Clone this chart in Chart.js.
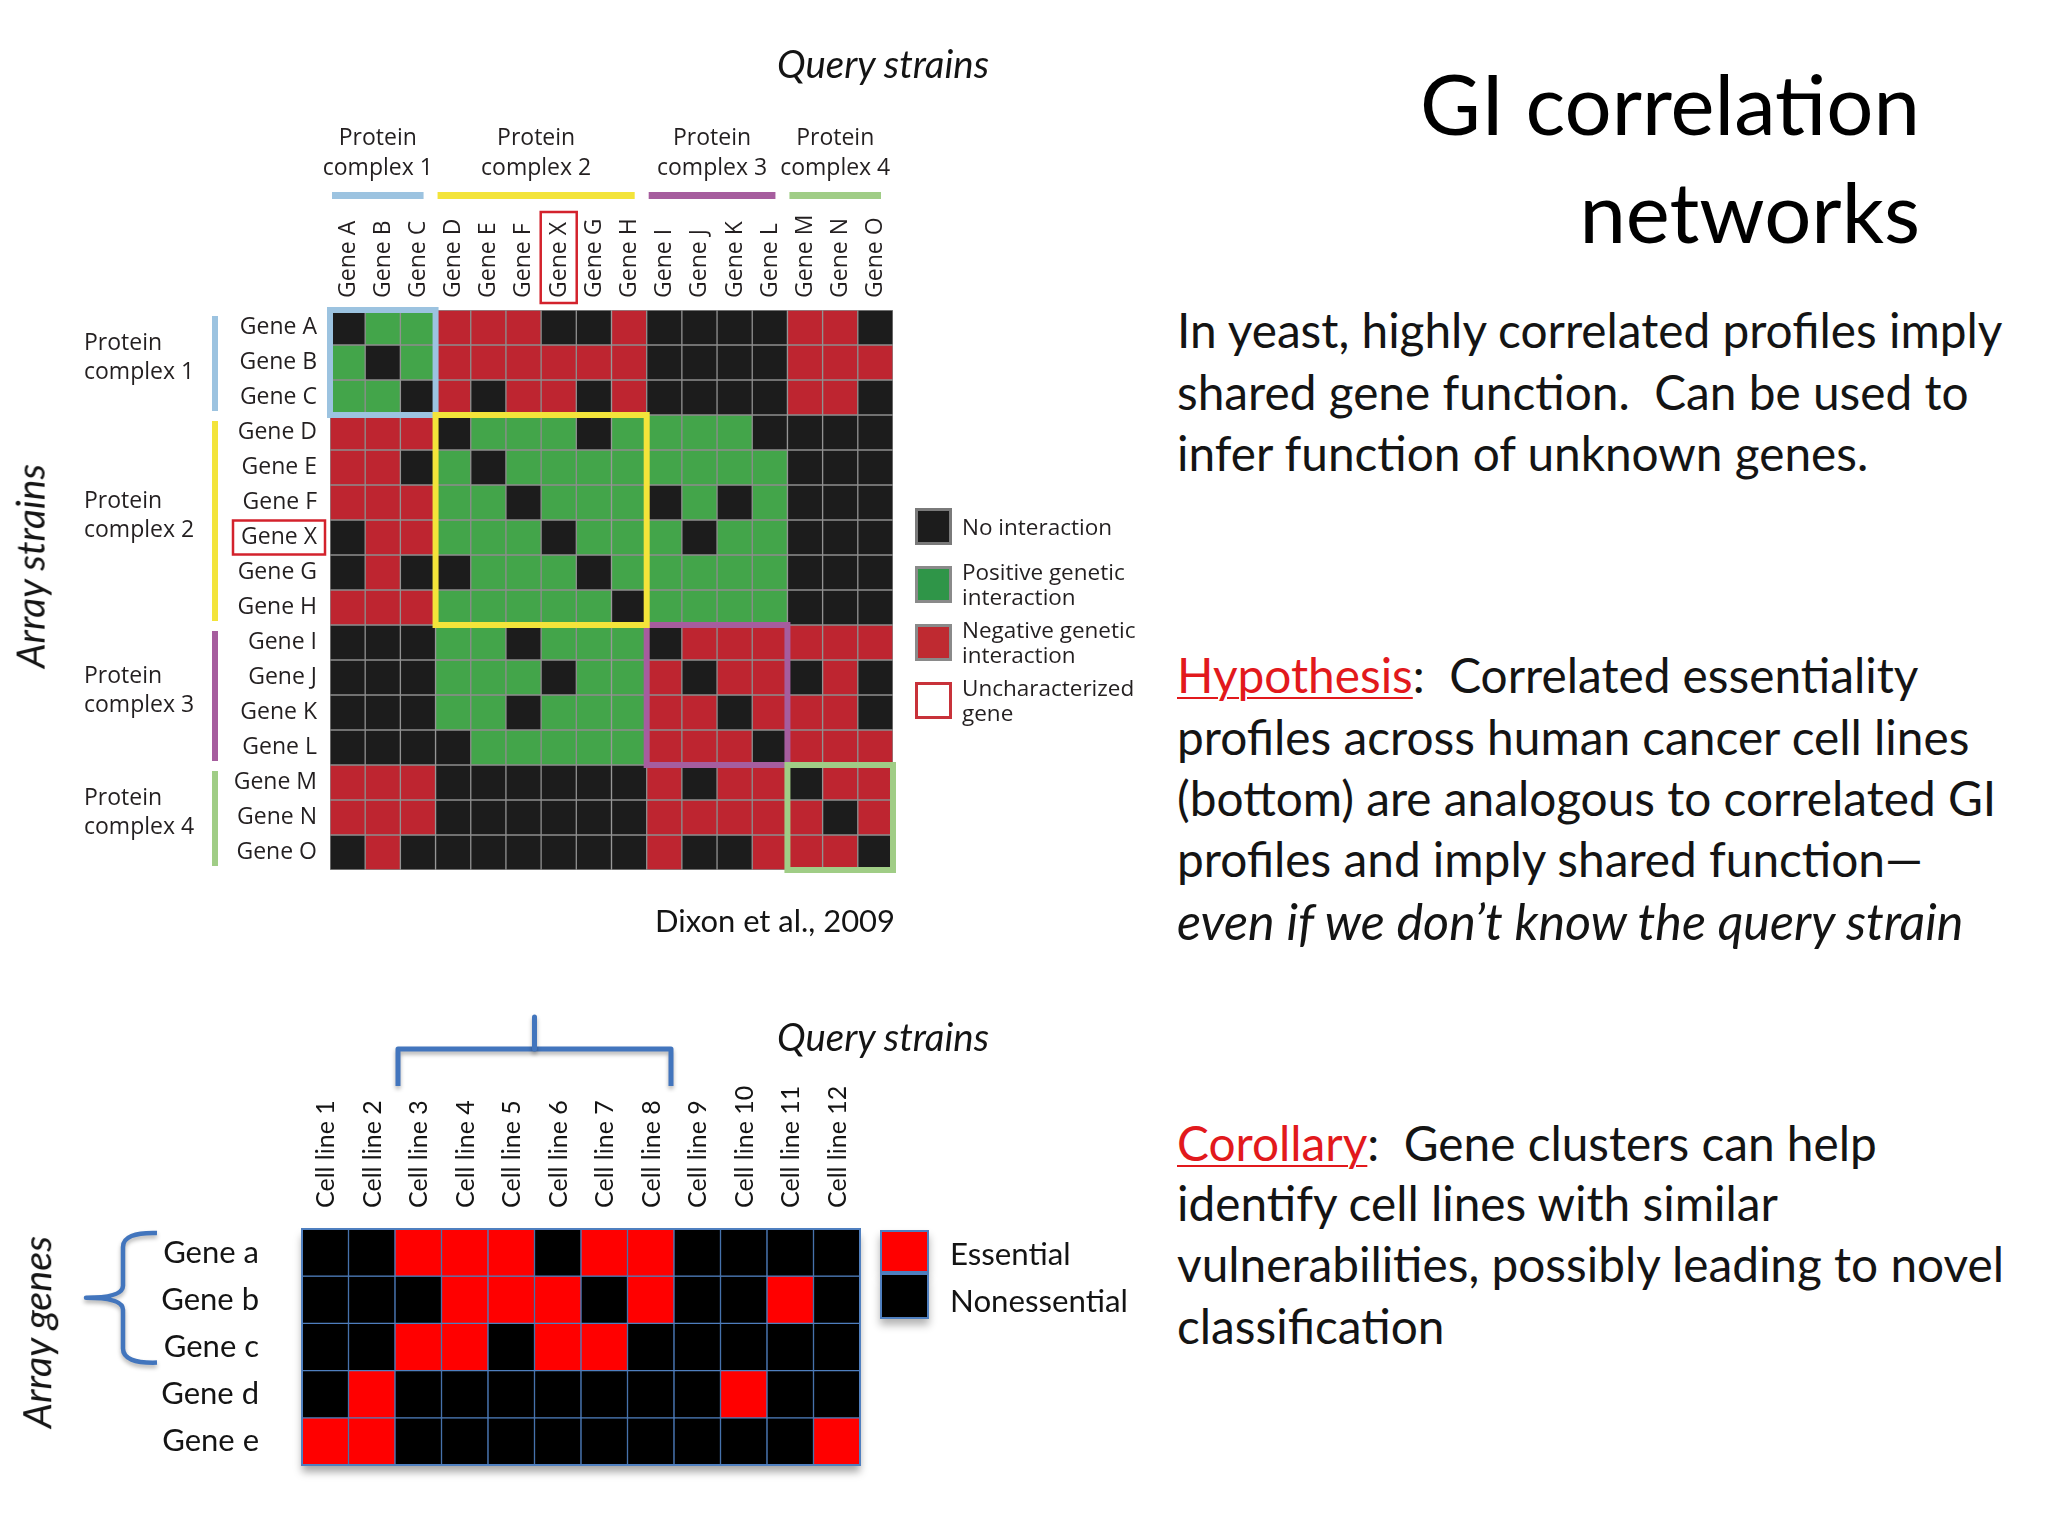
<!DOCTYPE html>
<html>
<head>
<meta charset="utf-8">
<script src="https://cdn.jsdelivr.net/npm/chart.js@4.4.1/dist/chart.umd.min.js"></script>
<style>
html,body{margin:0;padding:0;background:#ffffff;}
body{position:relative;width:2048px;height:1536px;overflow:hidden;}
canvas{position:absolute;}
.t{position:absolute;white-space:pre;color:#141414;font-family:Lato,'Open Sans',sans-serif;line-height:1.2;}
.sw{position:absolute;box-sizing:border-box;}
.red{color:#e2191c;text-decoration:underline;text-decoration-thickness:2px;text-underline-offset:4px;}
</style>
</head>
<body>
<canvas id="gi" width="1000" height="960" style="left:0;top:0;width:1000px;height:960px"></canvas>
<canvas id="ess" width="1000" height="556" style="left:0;top:980px;width:1000px;height:556px"></canvas>
<div id="txt"></div>
<script>
// ---------------- DATA ----------------
const giGenes = ['Gene A','Gene B','Gene C','Gene D','Gene E','Gene F','Gene X','Gene G','Gene H','Gene I','Gene J','Gene K','Gene L','Gene M','Gene N','Gene O'];
// interaction codes: 0 = no interaction, 1 = positive, 2 = negative
const giRowA = [0,1,1,2,2,2,0,0,2,0,0,0,0,2,2,0];
const giRowB = [1,0,1,2,2,2,2,2,2,0,0,0,0,2,2,2];
const giRowC = [1,1,0,2,0,2,2,0,2,0,0,0,0,2,2,0];
const giRowD = [2,2,2,0,1,1,1,0,1,1,1,1,0,0,0,0];
const giRowE = [2,2,0,1,0,1,1,1,1,1,1,1,1,0,0,0];
const giRowF = [2,2,2,1,1,0,1,1,1,0,1,0,1,0,0,0];
const giRowX = [0,2,2,1,1,1,0,1,1,1,0,1,1,0,0,0];
const giRowG = [0,2,0,0,1,1,1,0,1,1,1,1,1,0,0,0];
const giRowH = [2,2,2,1,1,1,1,1,0,1,1,1,1,0,0,0];
const giRowI = [0,0,0,1,1,0,1,1,1,0,2,2,2,2,2,2];
const giRowJ = [0,0,0,1,1,1,0,1,1,2,0,2,2,0,2,0];
const giRowK = [0,0,0,1,1,0,1,1,1,2,2,0,2,2,2,0];
const giRowL = [0,0,0,0,1,1,1,1,1,2,2,2,0,2,2,2];
const giRowM = [2,2,2,0,0,0,0,0,0,2,0,2,2,0,2,2];
const giRowN = [2,2,2,0,0,0,0,0,0,2,2,2,2,2,0,2];
const giRowO = [0,2,0,0,0,0,0,0,0,2,0,0,2,2,2,0];
const giMatrix = [giRowA,giRowB,giRowC,giRowD,giRowE,giRowF,giRowX,giRowG,giRowH,giRowI,giRowJ,giRowK,giRowL,giRowM,giRowN,giRowO];
const complexNames = ['complex 1','complex 2','complex 3','complex 4'];
const complexStart = [0,3,9,13];
const complexEnd = [2,8,12,15];
const unknownGene = 6; // Gene X
const giLegend = [['No interaction'],['Positive genetic','interaction'],['Negative genetic','interaction'],['Uncharacterized','gene']];

const cellLines = ['Cell line 1','Cell line 2','Cell line 3','Cell line 4','Cell line 5','Cell line 6','Cell line 7','Cell line 8','Cell line 9','Cell line 10','Cell line 11','Cell line 12'];
const essGenes = ['Gene a','Gene b','Gene c','Gene d','Gene e'];
// 1 = essential, 0 = nonessential
const essRowA = [0,0,1,1,1,0,1,1,0,0,0,0];
const essRowB = [0,0,0,1,1,1,0,1,0,0,1,0];
const essRowC = [0,0,1,1,0,1,1,0,0,0,0,0];
const essRowD = [0,1,0,0,0,0,0,0,0,1,0,0];
const essRowE = [1,1,0,0,0,0,0,0,0,0,0,1];
const essMatrix = [essRowA,essRowB,essRowC,essRowD,essRowE];
const bracketCols = [2,7];   // Cell line 3 .. Cell line 8
const braceRows = [0,2];     // Gene a .. Gene c
const essLegend = ['Essential','Nonessential'];

// ---------------- STYLES ----------------
const giColors = ['#1c1c1c','#43a54a','#be2530'];
const complexColors = ['#9cc3e0','#f3e43a','#a65d9e','#a0cd86'];
const essColors = ['#000000','#ff0000'];
const figFont = "'Open Sans'";
const figText = '#231f20';
const blue = '#4275bd';

// ---------------- TOP HEATMAP ----------------
const giOverlay = {
  id: 'giOverlay',
  afterDatasetsDraw(chart) {
    const {ctx, chartArea: ca, scales: {x, y}} = chart;
    const cw = (ca.right - ca.left) / giGenes.length;
    const colL = i => x.getPixelForValue(i) - cw / 2;
    ctx.save();
    ctx.lineWidth = 6;
    const order = [0,2,3,1];
    order.forEach(k => {
      const x0 = colL(complexStart[k]), x1 = colL(complexEnd[k]) + cw;
      const y0 = y.getPixelForValue(complexStart[k]), y1 = y.getPixelForValue(complexEnd[k] + 1);
      ctx.strokeStyle = complexColors[k];
      ctx.strokeRect(x0, y0, x1 - x0, y1 - y0);
    });
    ctx.restore();
  },
  afterDraw(chart) {
    const {ctx, chartArea: ca, scales: {x, y}} = chart;
    const cw = (ca.right - ca.left) / giGenes.length;
    const colL = i => x.getPixelForValue(i) - cw / 2;
    ctx.save();
    ctx.font = `23px ${figFont}`;
    ctx.fillStyle = figText;
    ctx.textBaseline = 'middle';
    complexNames.forEach((nm, k) => {
      // top bar + label
      const x0 = colL(complexStart[k]) + 2, x1 = colL(complexEnd[k]) + cw - 12;
      ctx.fillStyle = complexColors[k];
      ctx.fillRect(x0, ca.top - 118, x1 - x0, 7);
      ctx.fillStyle = figText;
      ctx.textAlign = 'center';
      const cx = (x0 + x1) / 2;
      ctx.fillText('Protein', cx, ca.top - 172);
      ctx.fillText(nm, cx, ca.top - 142);
      // left bar + label
      const y0 = y.getPixelForValue(complexStart[k]) + 6, y1 = y.getPixelForValue(complexEnd[k] + 1) - 4;
      ctx.fillStyle = complexColors[k];
      ctx.fillRect(212, y0, 6, y1 - y0);
      ctx.fillStyle = figText;
      ctx.textAlign = 'left';
      const cy = (y0 + y1) / 2;
      ctx.fillText('Protein', 84, cy - 20);
      ctx.fillText(nm, 84, cy + 9);
    });
    // uncharacterized gene boxes
    ctx.strokeStyle = '#d3222c';
    ctx.lineWidth = 2.5;
    const ry = y.getPixelForValue(unknownGene + 0.5);
    ctx.strokeRect(233, ry - 17, 92, 34);
    const rx = x.getPixelForValue(unknownGene);
    ctx.strokeRect(rx - 18, ca.top - 98, 36, 91);
    ctx.restore();
  }
};

new Chart(document.getElementById('gi'), {
  type: 'bar',
  data: {
    labels: giGenes,
    datasets: giMatrix.map((row, r) => ({
      label: giGenes[r],
      data: row.map(() => [r, r + 1]),
      backgroundColor: row.map(v => giColors[v]),
      borderColor: '#8d8d8d',
      borderWidth: 1,
      borderSkipped: false,
      grouped: false,
      barPercentage: 1,
      categoryPercentage: 1
    }))
  },
  options: {
    responsive: false,
    animation: false,
    devicePixelRatio: 1,
    layout: {padding: {left: 200, top: 180, right: 107, bottom: 90}},
    plugins: {legend: {display: false}, tooltip: {enabled: false}},
    scales: {
      x: {
        type: 'category', position: 'top',
        grid: {display: false, drawTicks: false}, border: {display: false},
        ticks: {autoSkip: false, minRotation: 90, maxRotation: 90, padding: 12, labelOffset: 28,
                font: {family: 'Open Sans', size: 23}, color: figText},
        afterFit(s) { s.height = 130; }
      },
      y: {
        type: 'linear', min: 0, max: giGenes.length, reverse: true,
        grid: {display: false, drawTicks: false}, border: {display: false},
        afterBuildTicks(s) { s.ticks = giGenes.map((g, i) => ({value: i + 0.5})); },
        ticks: {padding: 13, font: {family: 'Open Sans', size: 23}, color: figText,
                callback: (v, i) => giGenes[i]},
        afterFit(s) { s.width = 130; }
      }
    }
  },
  plugins: [giOverlay]
});

// ---------------- BOTTOM HEATMAP ----------------
const essOverlay = {
  id: 'essOverlay',
  beforeDatasetsDraw(chart) {
    const {ctx, chartArea: ca} = chart;
    ctx.save();
    ctx.shadowColor = 'rgba(0,0,0,0.35)';
    ctx.shadowBlur = 8;
    ctx.shadowOffsetY = 7;
    ctx.fillStyle = '#000';
    ctx.fillRect(ca.left, ca.top, ca.right - ca.left, ca.bottom - ca.top);
    ctx.restore();
  },
  afterDraw(chart) {
    const {ctx, chartArea: ca, scales: {x, y}} = chart;
    const cw = (ca.right - ca.left) / cellLines.length;
    ctx.save();
    ctx.strokeStyle = '#4f7fbf';
    ctx.lineWidth = 2;
    ctx.strokeRect(ca.left, ca.top, ca.right - ca.left, ca.bottom - ca.top);
    // bracket over cell lines
    ctx.strokeStyle = blue;
    ctx.lineWidth = 5;
    ctx.lineJoin = 'round';
    ctx.lineCap = 'butt';
    ctx.shadowColor = 'rgba(0,0,0,0.3)';
    ctx.shadowBlur = 4;
    ctx.shadowOffsetY = 3;
    const bx0 = x.getPixelForValue(bracketCols[0]) - cw / 2 + 3;
    const bx1 = x.getPixelForValue(bracketCols[1]) + cw / 2 - 3;
    const by = ca.top - 180;
    ctx.beginPath();
    ctx.moveTo(bx0, ca.top - 143);
    ctx.lineTo(bx0, by);
    ctx.lineTo(bx1, by);
    ctx.lineTo(bx1, ca.top - 143);
    ctx.stroke();
    ctx.beginPath();
    ctx.lineCap = 'round';
    const bcx = (bx0 + bx1) / 2;
    ctx.moveTo(bcx, by);
    ctx.lineTo(bcx, ca.top - 212);
    ctx.stroke();
    // brace left of gene rows
    const t = y.getPixelForValue(braceRows[0]) + 4;
    const b = y.getPixelForValue(braceRows[1] + 1) - 8;
    const m = (t + b) / 2;
    const vx = 123, ex = 157, tip = 86;
    ctx.lineWidth = 4.5;
    ctx.lineCap = 'butt';
    ctx.beginPath();
    ctx.moveTo(ex, t);
    ctx.quadraticCurveTo(vx, t - 1, vx, t + 14);
    ctx.lineTo(vx, m - 12);
    ctx.quadraticCurveTo(vx, m, tip, m);
    ctx.quadraticCurveTo(vx, m, vx, m + 12);
    ctx.lineTo(vx, b - 14);
    ctx.quadraticCurveTo(vx, b + 1, ex, b);
    ctx.stroke();
    ctx.restore();
  }
};

new Chart(document.getElementById('ess'), {
  type: 'bar',
  data: {
    labels: cellLines,
    datasets: essMatrix.map((row, r) => ({
      label: essGenes[r],
      data: row.map(() => [r, r + 1]),
      backgroundColor: row.map(v => essColors[v]),
      borderColor: '#4f7fbf',
      borderWidth: 1,
      borderSkipped: false,
      grouped: false,
      barPercentage: 1,
      categoryPercentage: 1
    }))
  },
  options: {
    responsive: false,
    animation: false,
    devicePixelRatio: 1,
    layout: {padding: {left: 102, top: 99, right: 140, bottom: 71}},
    plugins: {legend: {display: false}, tooltip: {enabled: false}},
    scales: {
      x: {
        type: 'category', position: 'top',
        grid: {display: false, drawTicks: false}, border: {display: false},
        ticks: {autoSkip: false, minRotation: 90, maxRotation: 90, padding: 21, labelOffset: 31,
                font: {family: 'Lato', size: 25}, color: '#141414'},
        afterFit(s) { s.height = 150; }
      },
      y: {
        type: 'linear', min: 0, max: essGenes.length, reverse: true,
        grid: {display: false, drawTicks: false}, border: {display: false},
        afterBuildTicks(s) { s.ticks = essGenes.map((g, i) => ({value: i + 0.5})); },
        ticks: {padding: 43, font: {family: 'Lato', size: 31}, color: '#141414',
                callback: (v, i) => essGenes[i]},
        afterFit(s) { s.width = 200; }
      }
    }
  },
  plugins: [essOverlay]
});

// ---------------- SLIDE TEXT ----------------
const mctx = document.createElement('canvas').getContext('2d');
function fit(text, style, family, target) {
  mctx.font = `${style} 100px ${family}`;
  return 100 * target / mctx.measureText(text).width;
}
const host = document.getElementById('txt');
function addText(html, o) {
  const d = document.createElement('div');
  d.className = 't';
  d.innerHTML = html;
  d.style.fontSize = o.size + 'px';
  if (o.family) d.style.fontFamily = o.family;
  if (o.italic) d.style.fontStyle = 'italic';
  if (o.color) d.style.color = o.color;
  const top = o.cy - 0.6 * o.size;
  if (o.rotate) {
    d.style.left = o.x + 'px';
    d.style.top = o.cy + 'px';
    d.style.transform = 'translate(-50%,-50%) rotate(-90deg)';
  } else {
    d.style.top = top + 'px';
    if (o.align === 'right') d.style.right = (2048 - o.x) + 'px';
    else if (o.align === 'center') { d.style.left = o.x + 'px'; d.style.transform = 'translateX(-50%)'; }
    else d.style.left = o.x + 'px';
  }
  host.appendChild(d);
  return d;
}

const titleSize = fit('GI correlation', '', 'Lato', 500);
addText('GI correlation', {x: 1920, cy: 104, size: titleSize, align: 'right', color: '#000'});
addText('networks', {x: 1920, cy: 212, size: titleSize, align: 'right', color: '#000'});

const bodySize = fit('In yeast, highly correlated profiles imply', '', 'Lato', 828);
const bx = 1177;
[['In yeast, highly correlated profiles imply', 330],
 ['shared gene function.  Can be used to', 392],
 ['infer function of unknown genes.', 453],
 ['<span class="red">Hypothesis</span>:  Correlated essentiality', 675],
 ['profiles across human cancer cell lines', 737],
 ['(bottom) are analogous to correlated GI', 798],
 ['profiles and imply shared function\u2014', 859],
 ['<span class="red">Corollary</span>:  Gene clusters can help', 1143],
 ['identify cell lines with similar', 1203],
 ['vulnerabilities, possibly leading to novel', 1264],
 ['classification', 1326]
].forEach(([h, cy]) => addText(h, {x: bx, cy, size: bodySize}));
const itLine = 'even if we don\u2019t know the query strain';
const itSize = Math.min(bodySize * 1.06, fit(itLine, 'italic', 'Lato', 790));
addText(itLine, {x: bx, cy: 921, size: itSize, italic: true});

const qSize = fit('Query strains', 'italic', 'Lato', 213);
addText('Query strains', {x: 883, cy: 63, size: qSize, italic: true, align: 'center'});
addText('Query strains', {x: 883, cy: 1036, size: qSize, italic: true, align: 'center'});
addText('Array strains', {x: 30, cy: 566, size: fit('Array strains', 'italic', 'Lato', 205), italic: true, rotate: true});
addText('Array genes', {x: 36, cy: 1332, size: fit('Array genes', 'italic', 'Lato', 193), italic: true, rotate: true});
addText('Dixon et al., 2009', {x: 895, cy: 921, size: fit('Dixon et al., 2009', '', 'Lato', 240), align: 'right'});

// top legend
const legSize = fit('No interaction', '', "'Open Sans'", 150);
const legSw = [
  {bg: giColors[0], bd: '#7a7a7a'},
  {bg: '#2f9548', bd: '#8a8a8a'},
  {bg: '#bf2a31', bd: '#8a8a8a'},
  {bg: '#ffffff', bd: '#c8323a'}
];
const legTops = [508, 566, 624, 682];
giLegend.forEach((lines, i) => {
  const s = document.createElement('div');
  s.className = 'sw';
  Object.assign(s.style, {left: '915px', top: legTops[i] + 'px', width: '37px', height: '37px',
    background: legSw[i].bg, border: `3px solid ${legSw[i].bd}`});
  host.appendChild(s);
  const c = legTops[i] + 18.5;
  if (lines.length === 1) addText(lines[0], {x: 962, cy: c, size: legSize, family: "'Open Sans'", color: figText});
  else {
    addText(lines[0], {x: 962, cy: c - 13, size: legSize, family: "'Open Sans'", color: figText});
    addText(lines[1], {x: 962, cy: c + 12, size: legSize, family: "'Open Sans'", color: figText});
  }
});

// bottom legend
const eLegSize = fit('Nonessential', '', 'Lato', 178);
[[1230, essColors[1]], [1273, essColors[0]]].forEach(([tp, col], i) => {
  const s = document.createElement('div');
  s.className = 'sw';
  Object.assign(s.style, {left: '880px', top: tp + 'px', width: '49px', height: (i ? 46 : 43) + 'px',
    background: col, border: '2px solid #4f7fbf', boxShadow: '0 6px 8px rgba(0,0,0,0.3)'});
  host.appendChild(s);
});
addText(essLegend[0], {x: 950, cy: 1254, size: eLegSize});
addText(essLegend[1], {x: 950, cy: 1301, size: eLegSize});
</script>
</body>
</html>
